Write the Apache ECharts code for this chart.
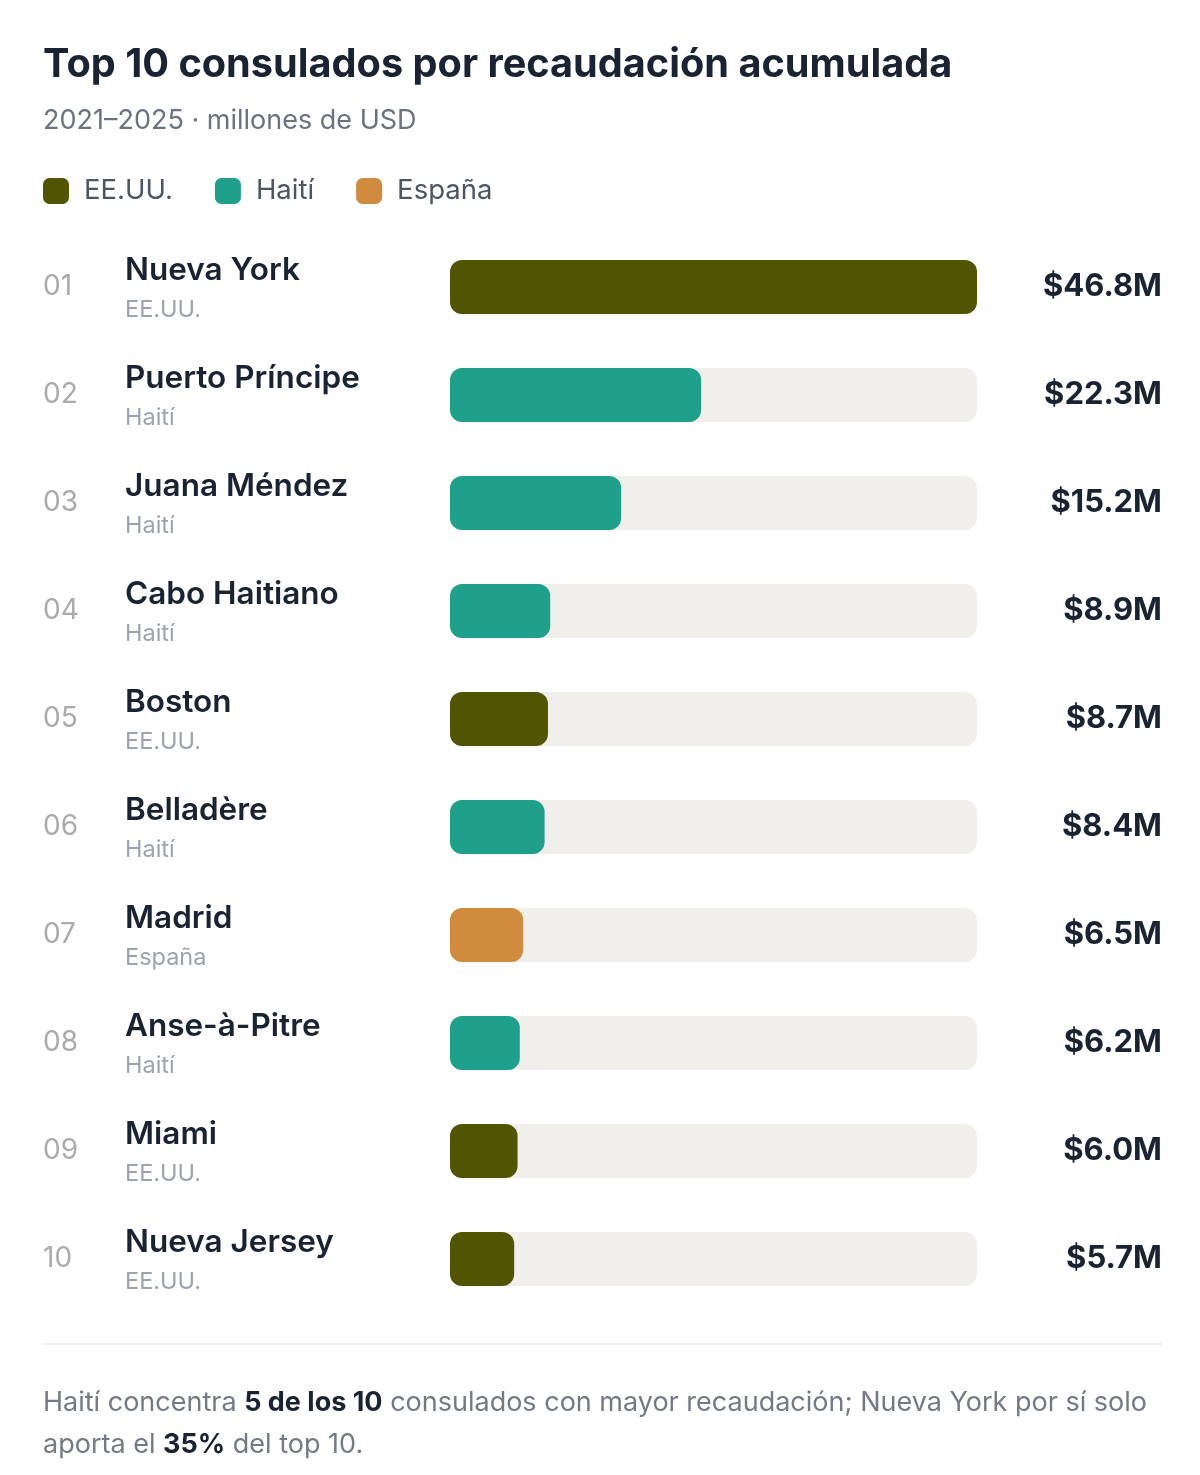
<!DOCTYPE html>
<html>
<head>
<meta charset="utf-8">
<script src="https://cdn.jsdelivr.net/npm/echarts@6/dist/echarts.min.js"></script>
<style>
  html, body { margin: 0; padding: 0; background: #ffffff; }
  #main { width: 1200px; height: 1475px; }
</style>
</head>
<body>
<div id="main"></div>
<script>
var ranks = ['01', '02', '03', '04', '05', '06', '07', '08', '09', '10'];
var cities = ['Nueva York', 'Puerto Príncipe', 'Juana Méndez', 'Cabo Haitiano', 'Boston',
  'Belladère', 'Madrid', 'Anse-à-Pitre', 'Miami', 'Nueva Jersey'];
var countries = ['EE.UU.', 'Haití', 'Haití', 'Haití', 'EE.UU.', 'Haití', 'España', 'Haití', 'EE.UU.', 'EE.UU.'];
var values = [46.8, 22.3, 15.2, 8.9, 8.7, 8.4, 6.5, 6.2, 6.0, 5.7];
var countryNames = ['EE.UU.', 'Haití', 'España'];
var countryColors = ['#515400', '#1fa08a', '#d08b3e'];

var font = 'Inter, "Noto Sans", sans-serif';
var maxVal = Math.max.apply(null, values);

var chartDom = document.getElementById('main');
var myChart = echarts.init(chartDom);

var series = [{
  type: 'bar',
  name: 'track',
  data: values.map(function () { return maxVal; }),
  barWidth: 54,
  barGap: '-100%',
  silent: true,
  itemStyle: { color: '#f0efeb', borderRadius: 12 },
  z: 1
}];
countryNames.forEach(function (c, k) {
  series.push({
    type: 'bar',
    name: c,
    data: values.map(function (v, i) { return countries[i] === c ? v : '-'; }),
    barWidth: 54,
    barGap: '-100%',
    itemStyle: { color: countryColors[k], borderRadius: 12 },
    z: 2
  });
});

var option = {
  animation: false,
  textStyle: { fontFamily: font },
  title: {
    text: 'Top 10 consulados por recaudación acumulada',
    subtext: '2021–2025 · millones de USD',
    left: 43,
    top: 45,
    padding: 0,
    itemGap: 22,
    textStyle: { fontFamily: font, fontSize: 39.7, fontWeight: 700, color: '#1a2332' },
    subtextStyle: { fontFamily: font, fontSize: 27, color: '#6b7280' }
  },
  legend: {
    data: countryNames,
    left: 43,
    top: 177,
    padding: 0,
    icon: 'roundRect',
    itemWidth: 26,
    itemHeight: 26,
    itemGap: 42,
    selectedMode: false,
    textStyle: { fontFamily: font, fontSize: 27.5, color: '#4b5563', padding: [0, 0, 0, 10] }
  },
  grid: { left: 450, right: 223, top: 233, bottom: 162 },
  xAxis: {
    type: 'value',
    min: 0,
    max: maxVal,
    show: false
  },
  yAxis: [{
    type: 'category',
    data: ranks,
    inverse: true,
    position: 'left',
    axisLine: { show: false },
    axisTick: { show: false },
    axisLabel: {
      align: 'left',
      margin: 407,
      fontFamily: font,
      fontSize: 28,
      color: '#ababab'
    }
  }, {
    type: 'category',
    data: cities,
    inverse: true,
    position: 'left',
    axisLine: { show: false },
    axisTick: { show: false },
    axisLabel: {
      align: 'left',
      margin: 325,
      formatter: function (v, i) {
        return '{n|' + v + '}\n{c|' + countries[i] + '}';
      },
      rich: {
        n: { fontFamily: font, fontSize: 31.5, fontWeight: 600, color: '#1a2332', lineHeight: 46 },
        c: { fontFamily: font, fontSize: 23.5, color: '#9ca3af', lineHeight: 32 }
      }
    }
  }, {
    type: 'category',
    data: values.map(function (v) { return '$' + v.toFixed(1) + 'M'; }),
    inverse: true,
    position: 'right',
    axisLine: { show: false },
    axisTick: { show: false },
    axisLabel: {
      align: 'right',
      margin: 185,
      fontFamily: font,
      fontSize: 31,
      fontWeight: 700,
      color: '#1a2332'
    }
  }],
  series: series,
  graphic: [{
    type: 'rect',
    shape: { x: 43, y: 1343, width: 1119, height: 2 },
    style: { fill: '#f0efeb' },
    silent: true
  }, {
    type: 'text',
    left: 43,
    top: 1389,
    style: {
      text: '{r|Haití concentra }{b|5 de los 10}{r| consulados con mayor recaudación; Nueva York por sí solo}\n{r|aporta el }{b|35%}{r| del top 10.}',
      rich: {
        r: { fontFamily: font, fontSize: 27, fill: '#737a86', lineHeight: 42 },
        b: { fontFamily: font, fontSize: 27, fontWeight: 700, fill: '#1a2332', lineHeight: 42 }
      }
    }
  }]
};

option && myChart.setOption(option);
</script>
</body>
</html>
